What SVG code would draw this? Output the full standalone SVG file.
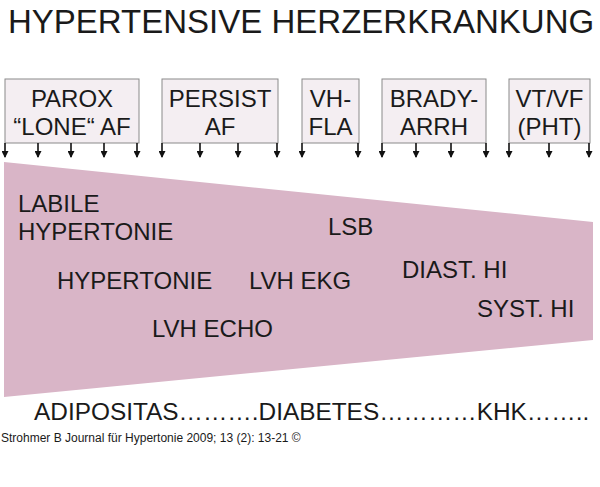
<svg xmlns="http://www.w3.org/2000/svg" width="600" height="487" viewBox="0 0 600 487">
<defs>
<marker id="ah" markerWidth="7" markerHeight="7" refX="6" refY="3.5" orient="auto" markerUnits="userSpaceOnUse" viewBox="0 0 7 7">
<path d="M0,0 L7,3.5 L0,7 Z" fill="#111"/>
</marker>
<style>
text{font-family:"Liberation Sans",Arial,sans-serif;fill:#1a1a1a}
.box{fill:#f4eef2;stroke:#8a8a8a;stroke-width:1}
.bt{font-size:24px;text-anchor:middle}
.lbl{font-size:24px}
.arr{stroke:#111;stroke-width:1.6;marker-end:url(#ah)}
</style>
</defs>
<rect width="600" height="487" fill="#ffffff"/>
<text id="title" x="8" y="33" style="font-size:33px">HYPERTENSIVE HERZERKRANKUNG</text>
<g id="zone">
<polygon points="4,162 593,222 593,340 4,397" fill="#d9b5c7"/>
</g>
<g id="node-parox">
<rect class="box" x="5" y="79" width="134" height="64"/>
<text class="bt" x="72" y="107">PAROX</text>
<text class="bt" x="72" y="135">“LONE“ AF</text>
</g>
<g id="node-persist">
<rect class="box" x="162" y="79" width="116" height="64"/>
<text class="bt" x="220" y="107">PERSIST</text>
<text class="bt" x="220" y="135">AF</text>
</g>
<g id="node-vhfla">
<rect class="box" x="302" y="79" width="57" height="64"/>
<text class="bt" x="330.5" y="107">VH-</text>
<text class="bt" x="330.5" y="135">FLA</text>
</g>
<g id="node-brady">
<rect class="box" x="382" y="79" width="104" height="64"/>
<text class="bt" x="434" y="107">BRADY-</text>
<text class="bt" x="434" y="135">ARRH</text>
</g>
<g id="node-vtvf">
<rect class="box" x="509" y="79" width="81" height="64"/>
<text class="bt" x="549.5" y="107">VT/VF</text>
<text class="bt" x="549.5" y="135">(PHT)</text>
</g>
<g id="connectors">
<line class="arr" x1="5" y1="143" x2="5" y2="157"/>
<line class="arr" x1="38" y1="143" x2="38" y2="157"/>
<line class="arr" x1="71" y1="143" x2="71" y2="157"/>
<line class="arr" x1="104" y1="143" x2="104" y2="157"/>
<line class="arr" x1="137" y1="143" x2="137" y2="157"/>
<line class="arr" x1="162" y1="143" x2="162" y2="157"/>
<line class="arr" x1="200" y1="143" x2="200" y2="157"/>
<line class="arr" x1="238" y1="143" x2="238" y2="157"/>
<line class="arr" x1="277" y1="143" x2="277" y2="157"/>
<line class="arr" x1="302" y1="143" x2="302" y2="157"/>
<line class="arr" x1="358" y1="143" x2="358" y2="157"/>
<line class="arr" x1="382" y1="143" x2="382" y2="157"/>
<line class="arr" x1="416" y1="143" x2="416" y2="157"/>
<line class="arr" x1="451" y1="143" x2="451" y2="157"/>
<line class="arr" x1="486" y1="143" x2="486" y2="157"/>
<line class="arr" x1="509" y1="143" x2="509" y2="157"/>
<line class="arr" x1="549" y1="143" x2="549" y2="157"/>
<line class="arr" x1="589" y1="143" x2="589" y2="157"/>
</g>
<g id="labels">
<text class="lbl" x="18" y="212">LABILE</text>
<text class="lbl" x="18" y="240">HYPERTONIE</text>
<text class="lbl" x="57" y="289">HYPERTONIE</text>
<text class="lbl" x="249" y="289">LVH EKG</text>
<text class="lbl" x="152" y="337">LVH ECHO</text>
<text class="lbl" x="328" y="235">LSB</text>
<text class="lbl" x="402" y="278">DIAST. HI</text>
<text class="lbl" x="477" y="317">SYST. HI</text>
</g>
<text id="risk" x="34" y="420" style="font-size:24.4px">ADIPOSITAS……….DIABETES…………KHK……..</text>
<text id="source" x="1" y="442" style="font-size:12px">Strohmer B Journal für Hypertonie 2009; 13 (2): 13-21 ©</text>
</svg>
